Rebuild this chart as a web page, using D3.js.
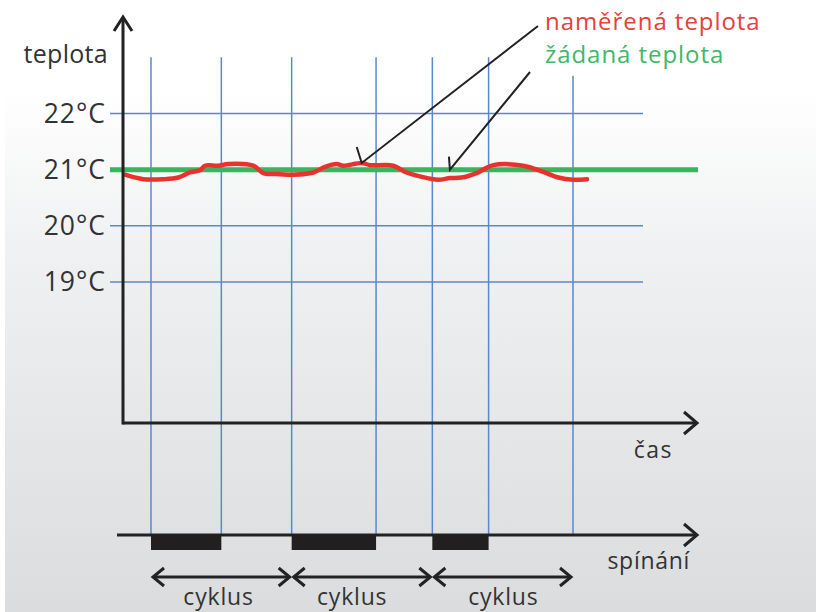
<!DOCTYPE html>
<html><head><meta charset="utf-8">
<script src="https://cdn.jsdelivr.net/npm/d3@7"></script>
<style>html,body{margin:0;padding:0;background:#fff;} svg{display:block;}</style>
</head><body>
<script>
// ---- data ----
const tempTicks = [22, 21, 20, 19];
const tickLabels = ["22°C", "21°C", "20°C", "19°C"];
const setpoint = 21;
const measuredTime = [-1.85, -0.55, 0.87, 1.94, 2.77, 3.48, 3.84, 4.78, 5.49, 7.27, 7.98, 9.17, 10.11, 11.54, 12.37, 13.2, 13.67, 14.98, 15.57, 17.22, 18.17, 19.12, 20.42, 21.25, 22.08, 23.15, 24.33, 26.46, 27.88, 28.95, 30.02, 31.0];
const measuredTemp = [20.91, 20.83, 20.83, 20.86, 20.95, 20.99, 21.07, 21.07, 21.10, 21.07, 20.94, 20.92, 20.91, 20.95, 21.05, 21.10, 21.07, 21.12, 21.08, 21.07, 20.95, 20.88, 20.82, 20.85, 20.86, 20.94, 21.08, 21.07, 20.96, 20.86, 20.82, 20.83];
const gridTimes = [0, 5, 10, 16, 20, 24, 30];
const gridTopTemp = [23, 23, 23, 23, 23, 23, 22.67];
const onStart = [0, 10, 20];
const onEnd = [5, 16, 24];
const cycleStart = [0, 10, 20];
const cycleEnd = [10, 20, 30];
const cycleLabelTime = [4.8, 14.3, 25.05];
const cycleLabels = ["cyklus", "cyklus", "cyklus"];
const legendLabels = ["naměřená teplota", "žádaná teplota"];
const pointerTime = [14.98, 21.25];
const pointerTemp = [21.12, 21.0];
const yTitle = "teplota";
const xTitle = "čas";
const switchTitle = "spínání";

// ---- layout ----
const W = 816, H = 612;
const x = d3.scaleLinear().domain([0, 30]).range([151, 573]);
const y = d3.scaleLinear().domain([22, 19]).range([113.5, 282]);
const axisX = 123, axisTopY = 17, axisBottomY = 423, axisRightX = 697;
const switchY = 535, barH = 15, cycleY = 577;
const gridLeft = 110, gridRight = 643, greenRight = 698;
const dark = "#222", textCol = "#333";
const blue = "#5889cf", red = "#e8322d", green = "#3bb35f";
const redText = "#e8403a", greenText = "#40b868";
const font = "'Open Sans', 'Noto Sans', sans-serif";

const svg = d3.select("body").append("svg").attr("width", W).attr("height", H);
const defs = svg.append("defs");
const grad = defs.append("linearGradient").attr("id", "bg").attr("x1", 0).attr("x2", 0).attr("y1", 0).attr("y2", 1);
grad.append("stop").attr("offset", "0%").attr("stop-color", "#ffffff");
grad.append("stop").attr("offset", "15%").attr("stop-color", "#ffffff");
grad.append("stop").attr("offset", "40%").attr("stop-color", "#f0f1f2");
grad.append("stop").attr("offset", "100%").attr("stop-color", "#dbdcde");
svg.append("rect").attr("x", 5).attr("y", 0).attr("width", W - 5).attr("height", H).attr("fill", "url(#bg)");

// horizontal grid
svg.append("g").selectAll("line").data(tempTicks).join("line")
  .attr("x1", gridLeft).attr("x2", gridRight)
  .attr("y1", d => y(d)).attr("y2", d => y(d))
  .attr("stroke", blue).attr("stroke-width", 1.5);

// vertical grid
svg.append("g").selectAll("line").data(gridTimes).join("line")
  .attr("x1", d => x(d)).attr("x2", d => x(d))
  .attr("y1", (d, i) => y(gridTopTemp[i])).attr("y2", switchY)
  .attr("stroke", blue).attr("stroke-width", 1.5);

// tick labels
svg.append("g").selectAll("text").data(tempTicks).join("text")
  .attr("x", 106).attr("y", d => y(d) + 9)
  .attr("text-anchor", "end").attr("font-family", font).attr("font-size", 26.5)
  .attr("letter-spacing", 1)
  .attr("fill", textCol).text((d, i) => tickLabels[i]);

svg.append("text").attr("x", 108).attr("y", 63).attr("text-anchor", "end")
  .attr("font-family", font).attr("font-size", 25).attr("letter-spacing", 0.3)
  .attr("fill", textCol).text(yTitle);

// setpoint line
svg.append("line").attr("x1", gridLeft).attr("x2", greenRight)
  .attr("y1", y(setpoint)).attr("y2", y(setpoint))
  .attr("stroke", green).attr("stroke-width", 5);

// measured curve
const line = d3.line().x(d => x(d[0])).y(d => y(d[1])).curve(d3.curveCatmullRom.alpha(0.5));
svg.append("path").datum(measuredTime.map((t, i) => [t, measuredTemp[i]]))
  .attr("d", line).attr("fill", "none").attr("stroke", red)
  .attr("stroke-width", 4.5).attr("stroke-linejoin", "round").attr("stroke-linecap", "round");

// axes
const ax = svg.append("g").attr("stroke", dark).attr("stroke-width", 3).attr("fill", "none")
  .attr("stroke-linecap", "butt").attr("stroke-linejoin", "miter");
ax.append("line").attr("x1", axisX).attr("x2", axisX).attr("y1", axisTopY + 1).attr("y2", axisBottomY + 1.5);
ax.append("path").attr("d", `M${axisX - 9},${axisTopY + 14} L${axisX},${axisTopY} L${axisX + 9},${axisTopY + 14}`);
ax.append("line").attr("x1", axisX).attr("x2", axisRightX - 1).attr("y1", axisBottomY).attr("y2", axisBottomY);
ax.append("path").attr("d", `M${axisRightX - 13},${axisBottomY - 11} L${axisRightX},${axisBottomY} L${axisRightX - 13},${axisBottomY + 11}`);
ax.append("line").attr("x1", 117).attr("x2", axisRightX - 1).attr("y1", switchY).attr("y2", switchY);
ax.append("path").attr("d", `M${axisRightX - 13},${switchY - 11} L${axisRightX},${switchY} L${axisRightX - 13},${switchY + 11}`);

// switching bars
svg.append("g").selectAll("rect").data(onStart).join("rect")
  .attr("x", d => x(d)).attr("width", (d, i) => x(onEnd[i]) - x(d))
  .attr("y", switchY).attr("height", barH).attr("fill", "#231f20");

// cycle arrows
const cy = svg.append("g").attr("stroke", dark).attr("stroke-width", 3).attr("fill", "none");
cycleStart.forEach((s, i) => {
  const a = x(s) + 2, b = x(cycleEnd[i]) - 2;
  cy.append("line").attr("x1", a).attr("x2", b).attr("y1", cycleY).attr("y2", cycleY);
  cy.append("path").attr("d", `M${a + 11},${cycleY - 9} L${a},${cycleY} L${a + 11},${cycleY + 9}`);
  cy.append("path").attr("d", `M${b - 11},${cycleY - 9} L${b},${cycleY} L${b - 11},${cycleY + 9}`);
});
svg.append("g").selectAll("text").data(cycleLabelTime).join("text")
  .attr("x", d => x(d)).attr("y", 605).attr("text-anchor", "middle")
  .attr("font-family", font).attr("font-size", 23).attr("letter-spacing", 0.8)
  .attr("fill", textCol).text((d, i) => cycleLabels[i]);

svg.append("text").attr("x", 673).attr("y", 458).attr("text-anchor", "end")
  .attr("font-family", font).attr("font-size", 23).attr("letter-spacing", 1.5)
  .attr("fill", textCol).text(xTitle);
svg.append("text").attr("x", 690).attr("y", 569).attr("text-anchor", "end")
  .attr("font-family", font).attr("font-size", 23).attr("letter-spacing", 0.7)
  .attr("fill", textCol).text(switchTitle);

// legend
svg.append("text").attr("x", 545).attr("y", 29.5).attr("font-family", font).attr("font-size", 24)
  .attr("letter-spacing", 0.95).attr("fill", redText).text(legendLabels[0]);
svg.append("text").attr("x", 545).attr("y", 62.5).attr("font-family", font).attr("font-size", 24)
  .attr("letter-spacing", 0.95).attr("fill", greenText).text(legendLabels[1]);

// pointers
const starts = [[538, 26], [530, 72]];
const ticks = [[-5, -16], [-1, -13]];
const pg = svg.append("g").attr("stroke", dark).attr("stroke-width", 2).attr("fill", "none");
pointerTime.forEach((t, i) => {
  const px = x(t), py = y(pointerTemp[i]);
  pg.append("path").attr("d", `M${starts[i][0]},${starts[i][1]} L${px},${py} L${px + ticks[i][0]},${py + ticks[i][1]}`);
});
</script>
</body></html>
